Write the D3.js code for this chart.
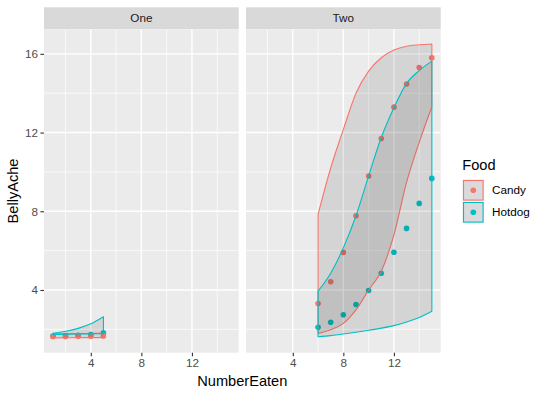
<!DOCTYPE html>
<html>
<head>
<meta charset="utf-8">
<script src="https://cdn.jsdelivr.net/npm/d3@7"></script>
<style>
  body { margin: 0; background: #fff; }
  text { font-family: "Liberation Sans", Arial, sans-serif; }
</style>
</head>
<body>
<div id="chart"></div>
<script>
// facet panels and groups
var panels = ["One", "Two"];
var foods = ["Candy", "Hotdog"];
var foodColors = ["#F8766D", "#00BFC4"];

var xOne = [1, 2, 3, 4, 5];
var xTwo = [6, 7, 8, 9, 10, 11, 12, 13, 14, 15];

// points
var candyOne  = [1.64, 1.64, 1.65, 1.65, 1.66];
var hotdogOne = [1.66, 1.68, 1.70, 1.74, 1.82];
var candyTwo  = [3.31, 4.42, 5.91, 7.77, 9.79, 11.70, 13.29, 14.47, 15.30, 15.80];
var hotdogTwo = [2.11, 2.36, 2.74, 3.26, 3.97, 4.85, 5.92, 7.13, 8.40, 9.67];

// ribbons (lower / upper)
var candyOneLow   = [1.56, 1.57, 1.58, 1.58, 1.58];
var candyOneHigh  = [1.76, 1.77, 1.78, 1.79, 1.80];
var hotdogOneLow  = [1.74, 1.75, 1.76, 1.77, 1.78];
var hotdogOneHigh = [1.80, 1.90, 2.05, 2.28, 2.64];
var candyTwoLow   = [1.79, 1.98, 2.30, 2.99, 4.00, 4.95, 6.80, 9.47, 11.50, 13.30];
var candyTwoHigh  = [7.84, 10.20, 12.16, 14.00, 15.12, 15.80, 16.19, 16.39, 16.46, 16.50];
var hotdogTwoLow  = [1.62, 1.68, 1.76, 1.85, 1.95, 2.06, 2.19, 2.37, 2.60, 2.92];
var hotdogTwoHigh = [3.94, 4.85, 6.14, 7.77, 9.80, 11.75, 13.26, 14.50, 15.15, 15.63];

var xTicks = [4, 8, 12];
var xMinor = [2, 6, 10, 14];
var yTicks = [4, 8, 12, 16];
var yMinor = [2, 6, 10, 14];

function rows(xs, ys, lo, hi) {
    return xs.map(function(x, i) { return {x: x, y: ys[i], lo: lo[i], hi: hi[i]}; });
}

var data = {
    One: [rows(xOne, candyOne, candyOneLow, candyOneHigh), rows(xOne, hotdogOne, hotdogOneLow, hotdogOneHigh)],
    Two: [rows(xTwo, candyTwo, candyTwoLow, candyTwoHigh), rows(xTwo, hotdogTwo, hotdogTwoLow, hotdogTwoHigh)]
};

var width = 545, height = 395;
var panelTop = 29.3, panelBottom = 352.7, stripH = 22;

var svg = d3.select("#chart")
    .append("svg")
    .attr("width", width)
    .attr("height", height);

var panel = d3.scaleBand()
    .domain(panels)
    .range([44, 440.7])
    .paddingInner(0.036);

// ranges with ggplot's 5% expansion
var allX = xOne.concat(xTwo);
var allY = [].concat(candyOneLow, candyOneHigh, hotdogOneLow, hotdogOneHigh,
                     candyTwoLow, candyTwoHigh, hotdogTwoLow, hotdogTwoHigh);
var xe = d3.extent(allX), ye = d3.extent(allY);
var xpad = (xe[1] - xe[0]) * 0.05, ypad = (ye[1] - ye[0]) * 0.05;

var y = d3.scaleLinear()
    .domain([ye[0] - ypad, ye[1] + ypad])
    .range([panelBottom, panelTop]);

panels.forEach(function(p) {
    var x = d3.scaleLinear()
        .domain([xe[0] - xpad, xe[1] + xpad])
        .range([panel(p), panel(p) + panel.bandwidth()]);

    var g = svg.append("g");

    // strip
    g.append("rect")
        .attr("x", panel(p)).attr("y", panelTop - stripH)
        .attr("width", panel.bandwidth()).attr("height", stripH)
        .attr("fill", "#D9D9D9");
    g.append("text")
        .attr("x", panel(p) + panel.bandwidth() / 2)
        .attr("y", panelTop - stripH / 2)
        .attr("dy", "0.35em")
        .attr("text-anchor", "middle")
        .attr("font-size", 11.7)
        .attr("fill", "#1A1A1A")
        .text(p);

    // panel background + grid
    g.append("rect")
        .attr("x", panel(p)).attr("y", panelTop)
        .attr("width", panel.bandwidth()).attr("height", panelBottom - panelTop)
        .attr("fill", "#EBEBEB");

    g.selectAll(".xminor").data(xMinor).enter().append("line")
        .attr("x1", x).attr("x2", x).attr("y1", panelTop).attr("y2", panelBottom)
        .attr("stroke", "#fff").attr("stroke-width", 0.7);
    g.selectAll(".yminor").data(yMinor).enter().append("line")
        .attr("x1", panel(p)).attr("x2", panel(p) + panel.bandwidth())
        .attr("y1", y).attr("y2", y)
        .attr("stroke", "#fff").attr("stroke-width", 0.7);
    g.selectAll(".xmajor").data(xTicks).enter().append("line")
        .attr("x1", x).attr("x2", x).attr("y1", panelTop).attr("y2", panelBottom)
        .attr("stroke", "#fff").attr("stroke-width", 1.4);
    g.selectAll(".ymajor").data(yTicks).enter().append("line")
        .attr("x1", panel(p)).attr("x2", panel(p) + panel.bandwidth())
        .attr("y1", y).attr("y2", y)
        .attr("stroke", "#fff").attr("stroke-width", 1.4);

    // points first, ribbons drawn on top
    [1, 0].forEach(function(k) {
        g.selectAll(".dot" + k)
            .data(data[p][k])
          .enter().append("circle")
            .attr("cx", function(d) { return x(d.x); })
            .attr("cy", function(d) { return y(d.y); })
            .attr("r", 2.8)
            .attr("fill", foodColors[k]);
    });

    var area = d3.area()
        .x(function(d) { return x(d.x); })
        .y0(function(d) { return y(d.lo); })
        .y1(function(d) { return y(d.hi); })
        .curve(d3.curveMonotoneX);

    [0, 1].forEach(function(k) {
        g.append("path")
            .datum(data[p][k])
            .attr("d", area)
            .attr("fill", "#333333")
            .attr("fill-opacity", 0.12)
            .attr("stroke", foodColors[k])
            .attr("stroke-width", 1.1)
            .attr("stroke-linejoin", "round");
    });

    // x axis
    var ax = g.append("g")
        .attr("transform", "translate(0," + panelBottom + ")")
        .call(d3.axisBottom(x).tickValues(xTicks).tickSize(3.6).tickPadding(2.5));
    ax.select(".domain").remove();
    ax.selectAll("line").attr("stroke", "#333333").attr("stroke-width", 1.1);
    ax.selectAll("text").attr("font-size", 11.7).attr("fill", "#4D4D4D")
        .attr("font-family", "Liberation Sans, Arial, sans-serif");

    if (p === panels[0]) {
        var ay = g.append("g")
            .attr("transform", "translate(" + panel(p) + ",0)")
            .call(d3.axisLeft(y).tickValues(yTicks).tickSize(3.6).tickPadding(2.5));
        ay.select(".domain").remove();
        ay.selectAll("line").attr("stroke", "#333333").attr("stroke-width", 1.1);
        ay.selectAll("text").attr("font-size", 11.7).attr("fill", "#4D4D4D")
            .attr("font-family", "Liberation Sans, Arial, sans-serif");
    }
});

// axis titles
svg.append("text")
    .attr("x", (panel(panels[0]) + panel(panels[1]) + panel.bandwidth()) / 2)
    .attr("y", 386)
    .attr("text-anchor", "middle")
    .attr("font-size", 14.6)
    .attr("fill", "#000")
    .text("NumberEaten");

svg.append("text")
    .attr("transform", "translate(18," + ((panelTop + panelBottom) / 2) + ") rotate(-90)")
    .attr("text-anchor", "middle")
    .attr("font-size", 14.6)
    .attr("fill", "#000")
    .text("BellyAche");

// legend
var legend = svg.append("g").attr("transform", "translate(462.3,0)");
legend.append("text")
    .attr("x", 0).attr("y", 170)
    .attr("font-size", 14.6)
    .attr("fill", "#000")
    .text("Food");

var keySize = 22;
foods.forEach(function(f, i) {
    var ky = 179.3 + i * keySize;
    legend.append("rect")
        .attr("x", 0).attr("y", ky)
        .attr("width", keySize).attr("height", keySize)
        .attr("fill", "#F2F2F2");
    legend.append("rect")
        .attr("x", 1.2).attr("y", ky + 1.2)
        .attr("width", keySize - 2.4).attr("height", keySize - 2.4)
        .attr("fill", "#333333").attr("fill-opacity", 0.12)
        .attr("stroke", foodColors[i]).attr("stroke-width", 1.1);
    legend.append("circle")
        .attr("cx", keySize / 2).attr("cy", ky + keySize / 2)
        .attr("r", 2.8)
        .attr("fill", foodColors[i]);
    legend.append("text")
        .attr("x", 29.7).attr("y", ky + keySize / 2)
        .attr("dy", "0.35em")
        .attr("font-size", 11.7)
        .attr("fill", "#000")
        .text(f);
});
</script>
</body>
</html>
